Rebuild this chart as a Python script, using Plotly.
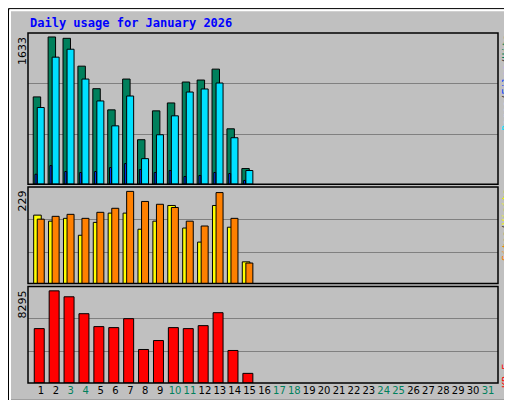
import plotly.graph_objects as go

days = list(range(1, 32))
data_days = list(range(1, 16))
hits = [968, 1633, 1618, 1309, 1059, 824, 1166, 493, 813, 901, 1133, 1155, 1276, 614, 173]
files = [850, 1409, 1497, 1166, 923, 647, 978, 283, 548, 758, 1022, 1056, 1122, 515, 151]
pages = [110, 206, 140, 129, 140, 184, 228, 162, 129, 151, 85, 96, 129, 118, 41]
visits = [170, 155, 162, 120, 152, 175, 175, 135, 155, 194, 138, 103, 194, 140, 54]
sites = [160, 167, 172, 162, 177, 187, 229, 204, 197, 189, 155, 143, 226, 162, 51]
kbytes = [4895, 8295, 7760, 6238, 5075, 4985, 5791, 3016, 3822, 4985, 4895, 5164, 6328, 2927, 868]
weekend = [3, 4, 10, 11, 17, 18, 24, 25, 31]
max_hits, max_sites, max_kb = 1633, 229, 8295

L, R, T, B = 20, 490, 25, 377
def px(x): return (x - L) / (R - L)
def py(y): return (B - y) / (B - T)

fig = go.Figure()
def bar(y, color, off, w, axis):
    fig.add_trace(go.Bar(x=data_days, y=y, offset=off, width=w, marker_color=color,
                         marker_line_color="black", marker_line_width=1,
                         xaxis="x", yaxis=axis, showlegend=False, hoverinfo="skip"))
bar(hits, "#00805c", -0.52, 0.5, "y")
bar(files, "#00e0ff", -0.25, 0.47, "y")
bar(pages, "#0040ff", -0.40, 0.13, "y")
bar(visits, "#ffff00", -0.49, 0.51, "y2")
bar(sites, "#ff8000", -0.25, 0.47, "y2")
bar(kbytes, "#ff0000", -0.45, 0.67, "y3")

ticktext = [f'<span style="color:#00805c">{d}</span>' if d in weekend else str(d) for d in days]
fig.update_layout(
    width=512, height=400, margin=dict(l=L, r=512 - R, t=T, b=400 - B),
    paper_bgcolor="#c0c0c0", plot_bgcolor="#c0c0c0", barmode="overlay",
    xaxis=dict(range=[0.13, 31.67], tickvals=days, ticktext=ticktext, showgrid=False,
               zeroline=False, tickangle=0,
               tickfont=dict(family="DejaVu Sans", size=10, color="black"),
               ticks="", anchor="y3"),
    yaxis=dict(domain=[py(177), 1], range=[0, 1677], tickvals=[551, 1114], showticklabels=False,
               gridcolor="#808080", zeroline=False),
    yaxis2=dict(domain=[py(277), py(180)], range=[0, 239.6], tickvals=[76.6, 158.1], showticklabels=False,
                gridcolor="#808080", zeroline=False),
    yaxis3=dict(domain=[0, py(280)], range=[0, 8682], tickvals=[2864, 5818], showticklabels=False,
                gridcolor="#808080", zeroline=False),
)

shapes = []
for top, bot in [(25, 177), (180, 277), (280, 377)]:
    shapes.append(dict(type="rect", xref="paper", yref="paper", x0=0, x1=1, y0=py(bot), y1=py(top),
                       line=dict(color="black", width=1.5)))
shapes.append(dict(type="rect", xref="paper", yref="paper", x0=px(0.5), x1=px(511.5),
                   y0=py(399.5), y1=py(0.5), line=dict(color="black", width=1)))
shapes.append(dict(type="line", xref="paper", yref="paper", x0=px(3), x1=px(509),
                   y0=py(395), y1=py(395), line=dict(color="#808080", width=3)))
shapes.append(dict(type="line", xref="paper", yref="paper", x0=px(508), x1=px(508),
                   y0=py(396), y1=py(3), line=dict(color="#808080", width=3)))
shapes.append(dict(type="line", xref="paper", yref="paper", x0=px(2), x1=px(2),
                   y0=py(396), y1=py(2), line=dict(color="white", width=2)))
shapes.append(dict(type="line", xref="paper", yref="paper", x0=px(2), x1=px(508),
                   y0=py(2), y1=py(2), line=dict(color="white", width=2)))
fig.update_layout(shapes=shapes)

mono = "DejaVu Sans Mono"
ann = [dict(x=px(20), y=py(15), text="<b>Daily usage for January 2026</b>", xanchor="left",
            yanchor="middle", font=dict(family=mono, size=12, color="#0000ff"))]
for top, val in [(25, max_hits), (180, max_sites), (280, max_kb)]:
    ann.append(dict(x=px(15), y=py(top + 2), text=str(val), textangle=-90,
                    xanchor="center", yanchor="top", font=dict(family="DejaVu Sans", size=11, color="black")))
right = [(25, '<span style="color:#00e0ff">Pages</span><span style="color:#404040">/</span>'
              '<span style="color:#0040ff">Files</span><span style="color:#404040">/</span>'
              '<span style="color:#00805c">Hits</span>'),
         (180, '<span style="color:#ff8000">Sites</span><span style="color:#404040">/</span>'
               '<span style="color:#ffff00">Visits</span>'),
         (356, '<span style="color:#ff0000">KB F</span>')]
for top, txt in right:
    ann.append(dict(x=px(498), y=py(top), text=txt, textangle=-90, xanchor="center", yanchor="top",
                    font=dict(family=mono, size=10)))
for a in ann:
    a.update(xref="paper", yref="paper", showarrow=False)
fig.update_layout(annotations=ann)
fig.write_html("out.html")
